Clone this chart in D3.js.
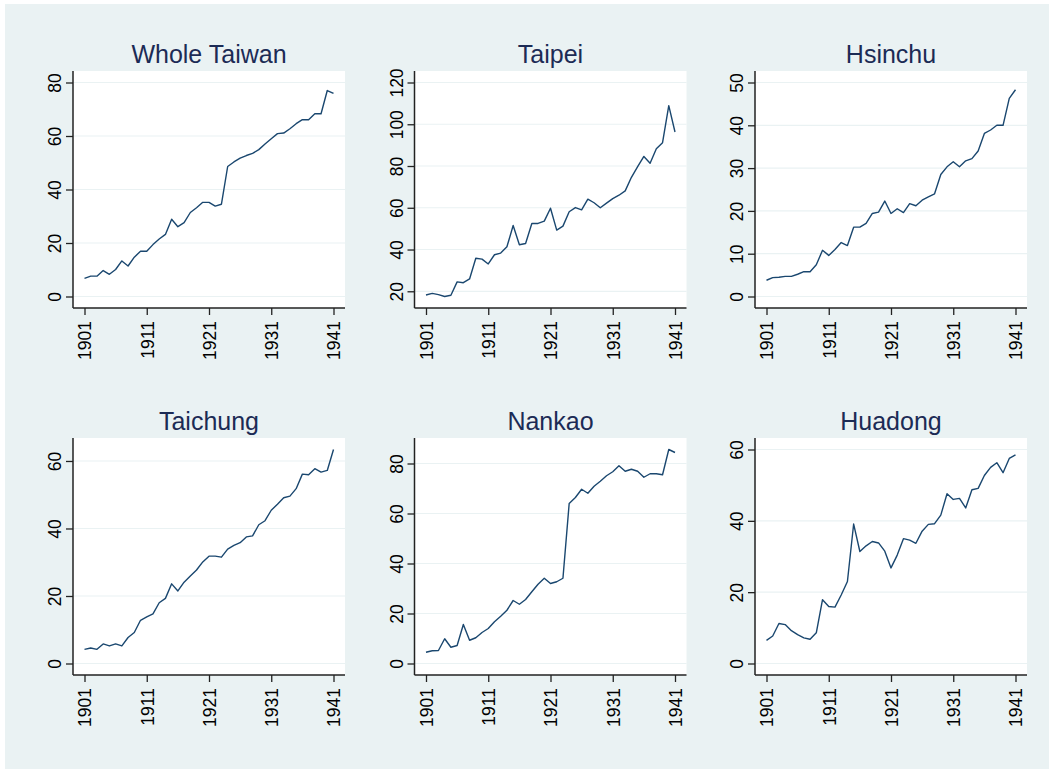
<!DOCTYPE html>
<html>
<head>
<meta charset="utf-8">
<script src="https://cdn.jsdelivr.net/npm/d3@7"></script>
<style>
  html, body { margin: 0; padding: 0; background: #ffffff; }
  svg text { font-family: "Liberation Sans", Arial, sans-serif; }
</style>
</head>
<body>
<div id="chart"></div>
<script>
// Years on the x axis, 1901 - 1941
const years = [1901, 1902, 1903, 1904, 1905, 1906, 1907, 1908, 1909, 1910,
               1911, 1912, 1913, 1914, 1915, 1916, 1917, 1918, 1919, 1920,
               1921, 1922, 1923, 1924, 1925, 1926, 1927, 1928, 1929, 1930,
               1931, 1932, 1933, 1934, 1935, 1936, 1937, 1938, 1939, 1940, 1941];
const xTicks = [1901, 1911, 1921, 1931, 1941];

const regions = ["Whole Taiwan", "Taipei", "Hsinchu", "Taichung", "Nankao", "Huadong"];

const wholeTaiwan = [6.8, 7.6, 7.6, 9.7, 8.3, 10.1, 13.3, 11.4, 14.7, 16.9,
                     16.9, 19.4, 21.5, 23.2, 28.9, 26.1, 27.6, 31.4, 33.2, 35.2,
                     35.2, 33.8, 34.5, 48.6, 50.3, 51.7, 52.7, 53.5, 54.9, 57.0,
                     59.0, 60.9, 61.1, 62.7, 64.6, 66.1, 66.1, 68.3, 68.3, 77.0, 75.9];
const taipei = [18.2, 19.0, 18.4, 17.5, 18.1, 24.5, 24.1, 25.9, 35.8, 35.4,
                33.1, 37.5, 38.3, 41.3, 51.5, 42.3, 42.9, 52.5, 52.5, 53.6,
                59.8, 49.3, 51.2, 58.1, 60.1, 59.0, 64.1, 62.4, 60.0, 62.2,
                64.4, 66.0, 68.1, 74.6, 79.7, 84.6, 81.3, 88.3, 91.2, 108.9, 96.3];
const hsinchu = [3.8, 4.4, 4.5, 4.7, 4.7, 5.2, 5.8, 5.8, 7.4, 10.8,
                 9.6, 11.0, 12.6, 11.9, 16.2, 16.2, 17.1, 19.4, 19.7, 22.3,
                 19.4, 20.5, 19.6, 21.7, 21.2, 22.5, 23.3, 24.0, 28.5, 30.3,
                 31.5, 30.3, 31.7, 32.2, 34.0, 38.1, 38.9, 40.0, 40.0, 46.3, 48.3];
const taichung = [4.2, 4.6, 4.2, 5.8, 5.2, 5.8, 5.2, 7.7, 9.2, 12.8,
                  13.8, 14.7, 18.0, 19.3, 23.6, 21.5, 24.1, 25.9, 27.7, 30.1,
                  31.8, 31.8, 31.5, 33.9, 35.0, 35.8, 37.5, 37.8, 41.1, 42.3,
                  45.4, 47.2, 49.1, 49.6, 51.8, 56.1, 55.9, 57.7, 56.7, 57.2, 63.4];
const nankao = [4.5, 5.1, 5.2, 9.9, 6.5, 7.2, 15.6, 9.3, 10.3, 12.4,
                14.0, 16.7, 18.9, 21.3, 25.2, 23.7, 25.6, 28.7, 31.7, 34.1,
                32.0, 32.7, 34.1, 64.0, 66.4, 69.7, 68.1, 70.9, 72.9, 75.1,
                76.7, 79.1, 76.9, 77.7, 76.9, 74.5, 75.9, 75.9, 75.5, 85.6, 84.4];
const huadong = [6.5, 7.7, 11.2, 10.9, 9.2, 8.1, 7.2, 6.8, 8.6, 17.9,
                 16.0, 15.8, 19.2, 23.0, 39.1, 31.4, 33.0, 34.2, 33.8, 31.5,
                 26.8, 30.4, 35.0, 34.6, 33.7, 37.1, 39.0, 39.2, 41.6, 47.6,
                 46.0, 46.3, 43.6, 48.7, 49.1, 52.7, 55.0, 56.3, 53.5, 57.5, 58.5];

const seriesValues = [wholeTaiwan, taipei, hsinchu, taichung, nankao, huadong];

const yTickSets = [
    [0, 20, 40, 60, 80],
    [20, 40, 60, 80, 100, 120],
    [0, 10, 20, 30, 40, 50],
    [0, 20, 40, 60],
    [0, 20, 40, 60, 80],
    [0, 20, 40, 60]
];

const W = 1049, H = 769;
const colLeft = [73, 414.5, 755];
const rowTop = [71, 438];
const plotW = 272, plotH = 237;
const pad = 11.5; // Stata style inner margin between plot edge and data range

const svg = d3.select('#chart').append('svg')
    .attr('width', W)
    .attr('height', H);

svg.append('rect')
    .attr('x', 5).attr('y', 4)
    .attr('width', W - 5).attr('height', H - 4)
    .attr('fill', '#eaf2f3');

function drawPanel(i) {
    const left = colLeft[i % 3];
    const top = rowTop[Math.floor(i / 3)];
    const values = seriesValues[i];
    const ticks = yTickSets[i];

    const g = svg.append('g').attr('transform', `translate(${left},${top})`);

    // y range covers both the ticks and the data
    const yMin = Math.min(d3.min(values), d3.min(ticks));
    const yMax = Math.max(d3.max(values), d3.max(ticks));

    const x = d3.scaleLinear().domain([1901, 1941]).range([pad, plotW - pad]);
    const y = d3.scaleLinear().domain([yMin, yMax]).range([plotH - pad, pad]);

    g.append('rect')
        .attr('width', plotW).attr('height', plotH)
        .attr('fill', '#ffffff');

    // gridlines
    g.selectAll('.grid')
        .data(ticks)
        .enter().append('line')
        .attr('x1', 0).attr('x2', plotW)
        .attr('y1', d => y(d)).attr('y2', d => y(d))
        .attr('stroke', '#eaf2f3')
        .attr('stroke-width', 1.2);

    // series line
    const line = d3.line()
        .x((d, j) => x(years[j]))
        .y(d => y(d));

    g.append('path')
        .datum(values)
        .attr('d', line)
        .attr('fill', 'none')
        .attr('stroke', '#1a476f')
        .attr('stroke-width', 1.4)
        .attr('stroke-linejoin', 'round');

    // y axis
    const yAxis = d3.axisLeft(y).tickValues(ticks).tickSize(7).tickPadding(5);
    const ya = g.append('g').call(yAxis);
    ya.select('.domain').remove();
    ya.selectAll('.tick line').attr('stroke', '#222').attr('stroke-width', 1.3);
    ya.selectAll('.tick text')
        .attr('x', null).attr('dy', null)
        .attr('transform', 'translate(-12,0) rotate(-90)')
        .attr('text-anchor', 'middle')
        .attr('fill', '#000')
        .style('font-size', '17.5px');
    g.append('line')
        .attr('x1', 0).attr('x2', 0).attr('y1', 0).attr('y2', plotH)
        .attr('stroke', '#222').attr('stroke-width', 1.5);

    // x axis
    const xAxis = d3.axisBottom(x).tickValues(xTicks).tickFormat(d3.format('d')).tickSize(7);
    const xa = g.append('g').attr('transform', `translate(0,${plotH})`).call(xAxis);
    xa.select('.domain').remove();
    xa.selectAll('.tick line').attr('stroke', '#222').attr('stroke-width', 1.3);
    xa.selectAll('.tick text')
        .attr('y', null).attr('dy', null)
        .attr('transform', 'translate(0,13) rotate(-90)')
        .attr('text-anchor', 'end')
        .attr('dy', '0.36em')
        .attr('fill', '#000')
        .style('font-size', '17.5px');
    g.append('line')
        .attr('x1', 0).attr('x2', plotW).attr('y1', plotH).attr('y2', plotH)
        .attr('stroke', '#222').attr('stroke-width', 1.5);

    // title
    g.append('text')
        .attr('x', plotW / 2)
        .attr('y', -8)
        .attr('text-anchor', 'middle')
        .attr('fill', '#1c2b55')
        .style('font-size', '25px')
        .text(regions[i]);
}

regions.forEach((r, i) => drawPanel(i));
</script>
</body>
</html>
